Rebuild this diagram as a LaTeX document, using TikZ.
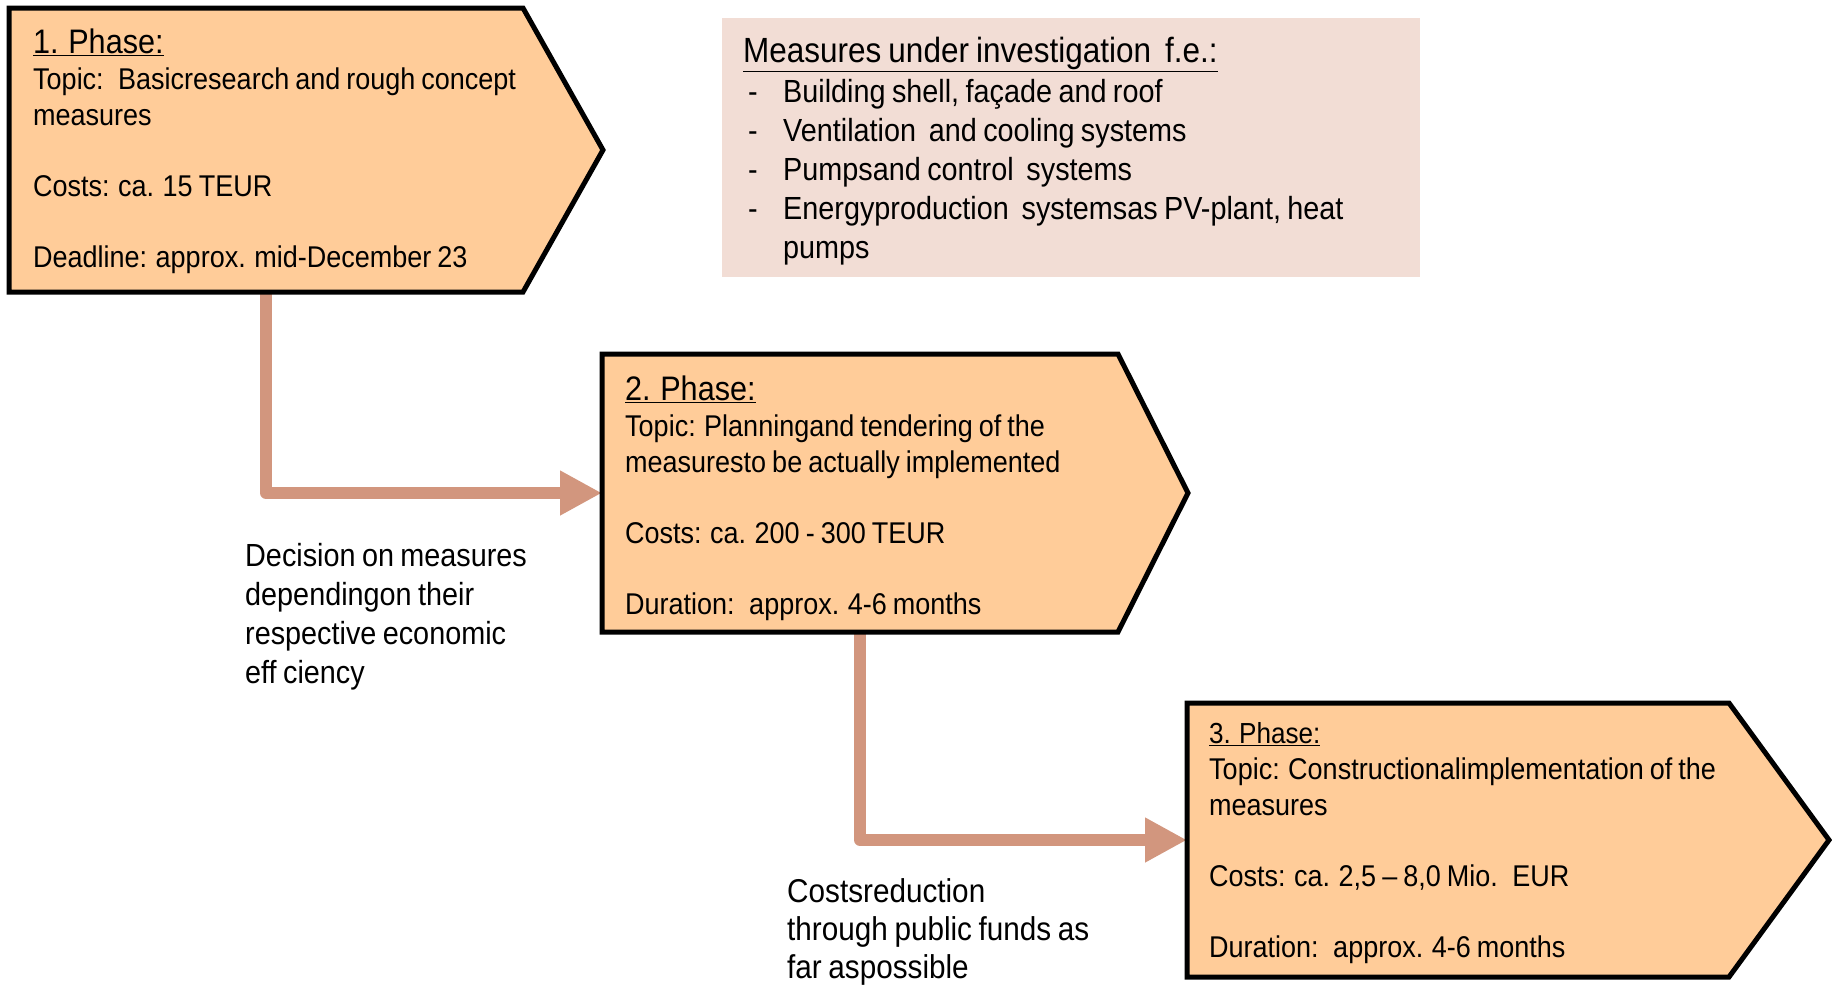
\documentclass[tikz,border=0pt]{standalone}
\usepackage{fontspec}
\setmainfont[FakeStretch=0.9,WordSpace=0.8]{Liberation Sans}
\usetikzlibrary{arrows.meta}
\definecolor{phasefill}{RGB}{255,204,153}
\definecolor{notefill}{RGB}{242,221,213}
\definecolor{linkcol}{RGB}{210,150,126}
\newcommand\phasehead{\fontsize{34}{36}\selectfont}
\newcommand\itemdash{\makebox[40pt][l]{\hspace{5pt}-}}
\begin{document}
\begin{tikzpicture}[x=1pt,y=-1pt,
    slot/.style={inner sep=0pt,outer sep=0pt,anchor=north west},
    phase/.style={draw=black,line width=5pt,fill=phasefill,line join=miter},
    link/.style={draw=linkcol,line width=12pt,line join=round,-{Triangle[width=42pt,length=42pt]}},
    body/.style={font=\fontsize{30}{35.5}\selectfont,align=left,inner sep=0pt,anchor=north west},
    note/.style={font=\fontsize{32}{39}\selectfont,align=left,inner sep=0pt,anchor=north west}]
    \useasboundingbox (0,0) rectangle (1832,986);

    % phase slots
    \node[slot,minimum width=514pt,minimum height=284pt] (ph1) at (9,8) {};
    \node[slot,minimum width=516pt,minimum height=278pt] (ph2) at (602,354) {};
    \node[slot,minimum width=542pt,minimum height=274pt] (ph3) at (1187,703) {};
    \node[slot,minimum width=698pt,minimum height=259pt,fill=notefill] (meas) at (722,18) {};

    \draw[link] (ph1.south) |- (ph2.west);
    \draw[link] (ph2.south) |- (ph3.west);

    \foreach \n/\t in {ph1/80,ph2/70,ph3/100}
        \draw[phase] (\n.north west) -- (\n.north east) -- ([xshift=\t pt]\n.east) -- (\n.south east) -- (\n.south west) -- cycle;

    \node[body] (t1) at (33,28.5) {{\phasehead\underline{1. Phase:}}\\[1pt]
        Topic:~ Basicresearch and rough concept\\ measures\\[35.5pt]
        Costs: ca. 15 TEUR\\[35.5pt] Deadline: approx. mid-December 23};
    \node[body] (t2) at (625,375.5) {{\phasehead\underline{2. Phase:}}\\[1pt]
        Topic: Planningand tendering of the\\ measuresto be actually implemented\\[35.5pt]
        Costs: ca. 200 - 300 TEUR\\[35.5pt] Duration:~ approx. 4-6 months};
    \node[body] (t3) at (1209,722.7) {{\fontsize{29}{35.5}\selectfont\underline{3. Phase:}}\\[0.5pt]
        Topic: Constructionalimplementation of the\\ measures\\[35.5pt]
        Costs: ca. 2,5 -- 8,0 Mio.~ EUR\\[35.5pt] Duration:~ approx. 4-6 months};

    \node[note] (mt) at (743,36.5) {{\fontsize{35}{40}\selectfont\underline{Measures under investigation~ f.e.:}}\\[1pt]
        \itemdash Building shell, façade and roof\\
        \itemdash Ventilation~ and cooling systems\\
        \itemdash Pumpsand control~ systems\\
        \itemdash Energyproduction~ systemsas PV-plant, heat\\
        \makebox[40pt]{}pumps};

    \node[note] (dec) at (245,543.5) {Decision on measures\\ dependingon their\\ respective economic\\ eff ciency};
    \node[note,font=\fontsize{33}{38}\selectfont] (red) at (787,878) {Costsreduction\\ through public funds as\\ far aspossible};
\end{tikzpicture}
\end{document}
